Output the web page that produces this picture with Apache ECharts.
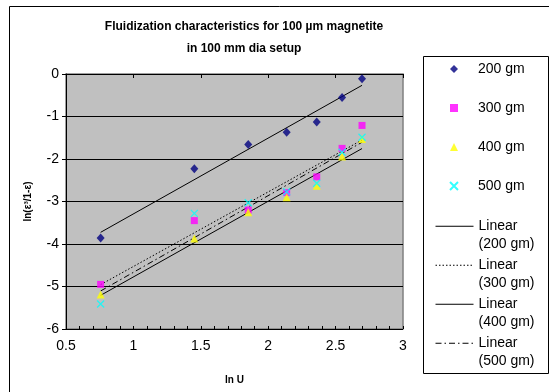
<!DOCTYPE html>
<html>
<head>
<meta charset="utf-8">
<script src="https://cdn.jsdelivr.net/npm/echarts@6/dist/echarts.min.js"></script>
<style>
  html, body { margin: 0; padding: 0; background: #fff; }
  #chart { width: 549px; height: 392px; }
</style>
</head>
<body>
<div id="chart"></div>
<script>
// ln U values (shared by every run)
const lnU = [0.757, 1.452, 1.852, 2.137, 2.36, 2.548, 2.696];

// ln(e^3/(1-e)) for each bed mass
const y200 = [-3.86, -2.23, -1.66, -1.37, -1.13, -0.55, -0.11];
const y300 = [-4.95, -3.45, -3.20, -2.79, -2.42, -1.75, -1.21];
const y400 = [-5.19, -3.87, -3.25, -2.90, -2.63, -1.94, -1.53];
const y500 = [-5.41, -3.28, -3.03, -2.77, -2.57, -1.84, -1.49];

const seriesNames = ['200 gm', '300 gm', '400 gm', '500 gm'];
const trendNames = ['Linear (200 gm)', 'Linear (300 gm)', 'Linear (400 gm)', 'Linear (500 gm)'];

const FONT = 'Arial, "Liberation Sans", sans-serif';

// least-squares straight line through a run, drawn between its first and last x
function linearFit(xs, ys) {
  const n = xs.length;
  const mx = xs.reduce((a, b) => a + b, 0) / n;
  const my = ys.reduce((a, b) => a + b, 0) / n;
  let sxy = 0, sxx = 0;
  for (let i = 0; i < n; i++) {
    sxy += (xs[i] - mx) * (ys[i] - my);
    sxx += (xs[i] - mx) * (xs[i] - mx);
  }
  const k = sxy / sxx;
  const b = my - k * mx;
  const x0 = Math.min(...xs), x1 = Math.max(...xs);
  return [[x0, k * x0 + b], [x1, k * x1 + b]];
}

const pairs = ys => lnU.map((x, i) => [x, ys[i]]);

const crossPath = 'path://M0,0L10,10M10,0L0,10';

const scatterDefs = [
  { data: y200, symbol: 'diamond', size: [8, 9], color: '#000080' },
  { data: y300, symbol: 'rect', size: 7, color: '#FF00FF' },
  { data: y400, symbol: 'triangle', size: 8, color: '#FFFF00' },
  { data: y500, symbol: crossPath, size: 7, color: '#00FFFF', hollow: true }
];

const trendDash = ['solid', [1.5, 2], 'solid', [6, 3, 1.5, 3]];

const series = [];
[y200, y300, y400, y500].forEach((ys, i) => {
  series.push({
    name: trendNames[i],
    type: 'line',
    data: linearFit(lnU, ys),
    symbol: 'none',
    silent: true,
    z: 2,
    lineStyle: { color: '#000', width: 1, type: trendDash[i] }
  });
});
scatterDefs.forEach((d, i) => {
  series.push({
    name: seriesNames[i],
    type: 'scatter',
    data: pairs(d.data),
    symbol: d.symbol,
    symbolSize: d.size,
    z: 3 + i,
    itemStyle: d.hollow
      ? { color: 'rgba(0,0,0,0)', borderColor: d.color, borderWidth: 1.3 }
      : { color: d.color }
  });
});

// legend entries for the trend lines: icon beside the first line of a two-line label
const trendLegends = trendNames.map((nm, i) => ({
  data: [nm],
  orient: 'vertical',
  left: 435,
  top: 200 + i * 39,
  itemWidth: 38,
  itemHeight: 10,
  padding: 0,
  selectedMode: false,
  itemStyle: { opacity: 0 },
  lineStyle: { width: 1, color: '#000', type: trendDash[i] },
  formatter: s => '\n' + s.replace(' (', '\n('),
  textStyle: { fontFamily: FONT, fontSize: 14, color: '#000', lineHeight: 17.5 }
}));

const option = {
  animation: false,
  backgroundColor: '#fff',
  title: {
    text: 'Fluidization characteristics for 100 µm magnetite\nin 100 mm dia setup',
    left: 239,
    textAlign: 'center',
    top: 11,
    textStyle: { fontFamily: FONT, fontSize: 12, fontWeight: 'bold', color: '#000', lineHeight: 22 }
  },
  grid: {
    left: 66, right: 146, top: 74, bottom: 63,
    show: true, backgroundColor: '#C0C0C0', borderColor: '#808080', borderWidth: 1.5
  },
  legend: [{
    data: seriesNames,
    orient: 'vertical',
    left: 449,
    top: 61,
    itemWidth: 8,
    itemHeight: 8,
    itemGap: 23,
    padding: 0,
    selectedMode: false,
    textStyle: { fontFamily: FONT, fontSize: 14, color: '#000', lineHeight: 16, padding: [0, 0, 0, 15] }
  }].concat(trendLegends),
  xAxis: [{
    type: 'value', min: 0.5, max: 3, interval: 0.5,
    name: 'ln U', nameLocation: 'middle', nameGap: 46,
    nameTextStyle: { fontFamily: FONT, fontSize: 10, fontWeight: 'bold', color: '#000' },
    axisLine: { show: true, lineStyle: { color: '#000', width: 1 } },
    axisTick: { show: true, inside: false, length: 4, lineStyle: { color: '#000' } },
    axisLabel: { fontFamily: FONT, fontSize: 14, color: '#000', margin: 10, formatter: v => String(+v.toFixed(1)) },
    splitLine: { show: false }
  }, {
    // fine inside ticks every 0.1
    type: 'value', min: 0.5, max: 3, interval: 0.1, position: 'bottom',
    axisLine: { show: false },
    axisTick: { show: true, inside: true, length: 3, lineStyle: { color: '#000' } },
    axisLabel: { show: false },
    splitLine: { show: false }
  }],
  yAxis: {
    type: 'value', min: -6, max: 0, interval: 1,
    name: 'ln(ε³/1-ε)', nameLocation: 'middle', nameGap: 33,
    nameTextStyle: { fontFamily: FONT, fontSize: 10, fontWeight: 'bold', color: '#000' },
    axisLine: { show: true, lineStyle: { color: '#000', width: 1 } },
    axisTick: { show: true, inside: false, length: 4, lineStyle: { color: '#000' } },
    axisLabel: { fontFamily: FONT, fontSize: 14, color: '#000', margin: 7 },
    splitLine: { show: true, lineStyle: { color: '#000', width: 1 } }
  },
  graphic: [
    { type: 'rect', left: 7, top: 4, shape: { width: 600, height: 420 }, silent: true, z: -10,
      style: { fill: null, stroke: '#000', lineWidth: 1 } },
    { type: 'rect', left: 423, top: 56, shape: { width: 125, height: 317 }, silent: true, z: -5,
      style: { fill: '#fff', stroke: '#000', lineWidth: 1 } }
  ],
  series: series
};

const chart = echarts.init(document.getElementById('chart'), null, { renderer: 'canvas' });
chart.setOption(option);
</script>
</body>
</html>
